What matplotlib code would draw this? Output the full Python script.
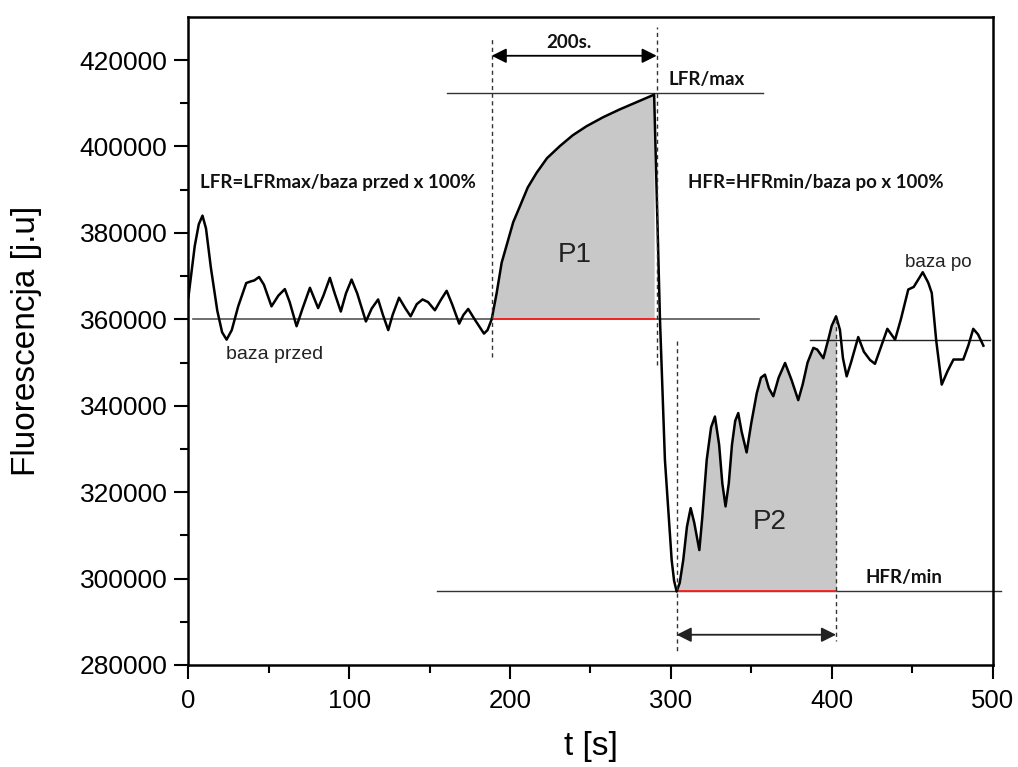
import numpy as np
import matplotlib
matplotlib.use('Agg')
import matplotlib.pyplot as plt

# signal (t in s, fluorescence in a.u.)
t = [0, 4, 6.5, 8.8, 11, 14, 18, 21, 23.8, 27, 31, 36, 39, 41, 44, 47, 51.7, 56, 60, 63,
     67.3, 71, 75.6, 80.7, 84, 88, 91, 94.8, 98, 101.5, 105, 110.4, 114, 118, 121, 124.3,
     127, 131, 135, 138.2, 142, 145.6, 149, 153.3, 157, 160.6, 164, 168.4, 171, 174, 178,
     183.8, 186, 188.6, 191.7, 194.8, 198.9, 202, 206.2, 211, 216.5, 223, 231, 239, 247.6, 258,
     268.3, 279, 289.6, 293.2, 296.3, 300.5, 302, 303.6, 305.5, 307.7, 310, 312.3, 314.5,
     317.7, 319.5, 322.3, 325, 327.4, 330, 332, 334, 336, 338, 340, 341.9, 344, 347.1, 350,
     353.4, 356, 358.5, 361, 363.7, 367, 371, 375, 379.2, 382, 385, 388.6, 391, 394.8, 398,
     400, 402.7, 405.1, 407, 409.3, 412, 416.5, 420, 423.8, 426.9, 431, 434.6, 439.4, 443,
     447.6, 451, 456.6, 460, 462.2, 465, 468.4, 472, 475.7, 481.8, 485, 488, 491, 494.3]
fl = [365000, 377000, 382000, 384000, 381000, 372000, 362000, 357000, 355300, 357500,
      363000, 368400, 368800, 369000, 369800, 368000, 363000, 365500, 367000, 364000,
      358400, 362500, 367300, 362600, 365500, 369600, 366000, 361800, 366000, 369200,
      366000, 359500, 362500, 364600, 361000, 357500, 361000, 365000, 362500, 360700,
      363500, 364600, 364000, 362100, 364500, 366600, 363500, 359000, 361000, 362400,
      360000, 356700, 357500, 360000, 366100, 373100, 378500, 382500, 386200, 390500,
      393900, 397300, 400100, 402600, 404700, 406800, 408600, 410300, 412000, 360300,
      327500, 304300, 299500, 297000, 299000, 304300, 312000, 316300, 313000, 306600,
      314000, 327500, 335000, 337500, 331000, 322000, 316700, 322000, 331000, 336500,
      338300, 334000, 329200, 336000, 342900, 346500, 347200, 344000, 342200, 346500,
      349900, 346000, 341300, 345000, 350000, 353400, 353000, 351000, 355500, 358500,
      360700, 357600, 351000, 346800, 350000, 355900, 352500, 350600, 349700, 354000,
      357800, 355300, 360000, 366900, 367500, 370900, 368500, 366100, 355000, 344900,
      348000, 350700, 350700, 354000, 357800, 356500, 353900]

t = np.array(t)
fl = np.array(fl)

# reference levels and windows
base_before = 360000
base_after = 355200
lfr_max = 412300
hfr_min = 297100
p1_window = [188.6, 289.6]
p2_window = [303.6, 402.7]

fig = plt.figure(figsize=(10.18, 7.67), dpi=100)
ax = fig.add_axes([0.185, 0.133, 0.79, 0.845])

m1 = (t >= p1_window[0]) & (t <= p1_window[1])
m2 = (t >= p2_window[0]) & (t <= p2_window[1])
ax.fill_between(t[m1], base_before, fl[m1], color='#c8c8c8', lw=0)
ax.fill_between(t[m2], hfr_min, fl[m2], color='#c8c8c8', lw=0)

ax.plot([3, 355], [base_before] * 2, color='#555555', lw=1.2)
ax.plot([161, 357], [lfr_max] * 2, color='#333333', lw=1.0)
ax.plot([386.5, 498.5], [base_after] * 2, color='#222222', lw=1.0)
ax.plot([154.5, 505], [hfr_min] * 2, color='#333333', lw=1.0, clip_on=False)
ax.plot(p1_window, [base_before] * 2, color='#ff2020', lw=1.3)
ax.plot(p2_window, [hfr_min] * 2, color='#ff2020', lw=1.3)

ax.plot(t, fl, color='black', lw=1.8)

dash = dict(color='#333333', lw=1.0, ls=(0, (3, 2.5)))
ax.plot([188.6, 188.6], [351300, 425000], **dash)
ax.plot([291.2, 291.2], [349500, 427700], **dash)
ax.plot([303.6, 303.6], [355000, 282800], **dash)
ax.plot([402.7, 402.7], [360000, 285500], **dash)

arr = dict(arrowstyle='<|-|>', color='black', lw=1.3, mutation_scale=22, shrinkA=0, shrinkB=0)
ax.annotate('', xy=(188.6, 421000), xytext=(291.2, 421000), arrowprops=arr)
ax.annotate('', xy=(303.6, 287000), xytext=(402.7, 287000),
            arrowprops=dict(arr, color='#222222'))

bold = dict(family=['Lato', 'DejaVu Sans'], fontweight='bold', fontsize=13.5, color='#111111')
ax.text(7.1, 391700, 'LFR=LFRmax/baza przed x 100%', ha='left', va='center', **bold)
ax.text(310.6, 391700, 'HFR=HFRmin/baza po x 100%', ha='left', va='center', **bold)
ax.text(298.8, 415600, 'LFR/max', ha='left', va='center', **bold)
ax.text(236.6, 424000, '200s.', ha='center', va='center', **bold)
ax.text(420.7, 300200, 'HFR/min', ha='left', va='center', **bold)

reg = dict(family=['Liberation Sans', 'DejaVu Sans'], color='#222222')
ax.text(240.4, 375000, 'P1', ha='center', va='center', fontsize=20, **reg)
ax.text(361.6, 313100, 'P2', ha='center', va='center', fontsize=20, **reg)
ax.text(53.8, 351800, 'baza przed', ha='center', va='center', fontsize=14, **reg)
ax.text(466, 373200, 'baza po', ha='center', va='center', fontsize=13.5, **reg)

ax.set_xlim(0, 500)
ax.set_ylim(280000, 430000)
ax.set_xticks(np.arange(0, 501, 100))
ax.set_xticks(np.arange(50, 500, 100), minor=True)
ax.set_yticks(np.arange(280000, 420001, 20000))
ax.set_yticks(np.arange(290000, 430000, 20000), minor=True)

font = ['Liberation Sans', 'DejaVu Sans']
for lab in ax.get_xticklabels():
    lab.set_family(font)
    lab.set_fontsize(18.5)
for lab in ax.get_yticklabels():
    lab.set_family(font)
    lab.set_fontsize(19)

ax.tick_params(which='major', direction='out', length=10, width=1.5)
ax.tick_params(axis='x', which='major', pad=7)
ax.tick_params(axis='y', which='major', pad=5)
ax.tick_params(which='minor', direction='out', length=6, width=1.5)
ax.tick_params(top=False, right=False)
for s in ax.spines.values():
    s.set_linewidth(1.8)

ax.set_xlabel('t [s]', family=font, fontsize=24, labelpad=13)
ax.set_ylabel('Fluorescencja [j.u]', family=font, fontsize=24, labelpad=27)

plt.savefig('out.png', dpi=100)
